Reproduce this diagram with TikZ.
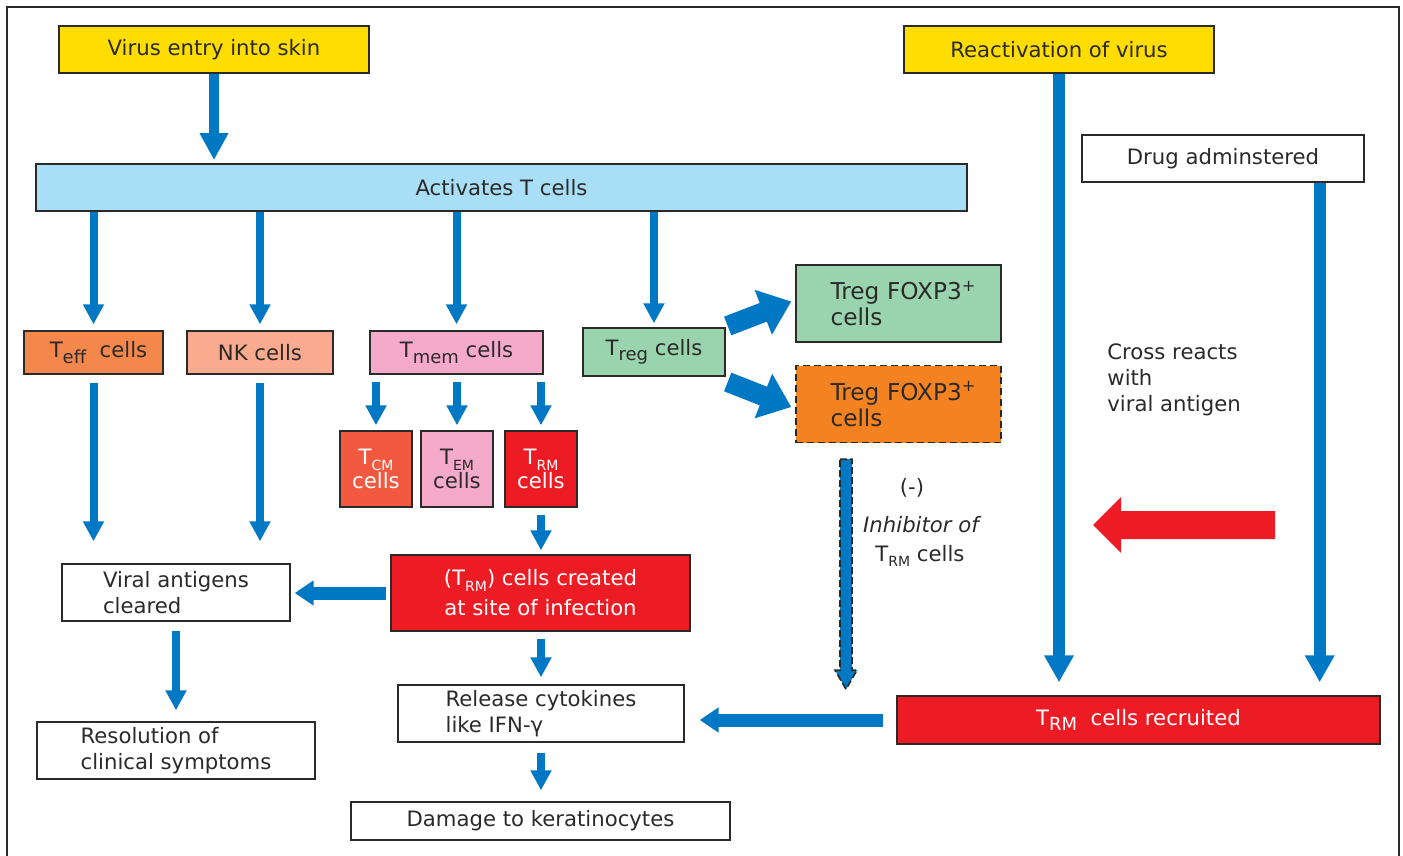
\documentclass[tikz,border=0pt]{standalone}
\usepackage{fontspec}
\setmainfont{DejaVu Sans}
\usetikzlibrary{arrows.meta,calc}

\definecolor{ylw}{HTML}{FFDD00}
\definecolor{skyb}{HTML}{A8DEF6}
\definecolor{effor}{HTML}{F4874B}
\definecolor{salmon}{HTML}{F9AA8F}
\definecolor{pinkc}{HTML}{F5AACB}
\definecolor{greenc}{HTML}{9AD4AE}
\definecolor{orangec}{HTML}{F58220}
\definecolor{cmred}{HTML}{F15A40}
\definecolor{redc}{HTML}{ED1C24}
\definecolor{flow}{HTML}{0078C3}
\definecolor{edge}{HTML}{2B2A29}

% lowered index text in two sizes
\newcommand{\lowbig}[1]{\raisebox{-0.45ex}{\fontsize{9}{9}\selectfont #1}}
\newcommand{\lowsm}[1]{\raisebox{-0.5ex}{\fontsize{7}{7}\selectfont #1}}

\tikzset{
  box/.style={draw=edge, line width=0.7pt, inner sep=0pt, align=center,
    font=\fontsize{10.6}{13}\selectfont, text=edge},
  whitetext/.style={text=white},
  arrA/.style={draw=flow, line width=5pt, -{Triangle[width=13.5pt,length=13.5pt]}},
  arrS/.style={draw=flow, line width=4pt, -{Triangle[width=10pt,length=10pt]}},
  arrL/.style={draw=flow, line width=6pt, -{Triangle[width=14pt,length=13.5pt]}},
  arrH/.style={draw=flow, line width=6.5pt, -{Triangle[width=12pt,length=9.5pt]}},
  arrT/.style={draw=flow, line width=10pt, -{Triangle[width=23pt,length=15pt]}},
  lbl/.style={font=\fontsize{10.6}{13}\selectfont, text=edge, inner sep=0pt, align=left}
}

\begin{document}
\begin{tikzpicture}[x=0.5pt,y=-0.5pt]
\useasboundingbox (0,0) rectangle (1403,856);
\fill[white] (0,0) rectangle (1403,856);
% frame
\draw[edge, line width=1.3pt] (7,870) -- (7,7) -- (1399,7) -- (1399,870);

% top row
\node[box, fill=ylw, minimum width=155pt, minimum height=23.5pt] (virus) at (214,49.5) {Virus entry into skin};
\node[box, fill=ylw, minimum width=155pt, minimum height=23.5pt] (react) at (1059,49.5) {Reactivation of virus};
\node[box, fill=white, minimum width=141pt, minimum height=23.5pt] (drug) at (1223,158.5) {Drug adminstered};
\node[box, fill=skyb, minimum width=465.5pt, minimum height=23.5pt] (act) at (501.5,187.5) {Activates T cells};

% T cell subsets
\node[box, fill=effor, minimum width=69.5pt, minimum height=21.5pt] (teff) at (93.5,352.5) {\hspace*{5pt}T\lowbig{eff}\ \ cells};
\node[box, fill=salmon, minimum width=73pt, minimum height=21.5pt] (nk) at (260,352.5) {NK cells};
\node[box, fill=pinkc, minimum width=86.5pt, minimum height=21.5pt] (tmem) at (456.5,352.5) {T\lowbig{mem}\ cells};
\node[box, fill=greenc, minimum width=71pt, minimum height=24pt] (treg) at (654,352) {T\lowbig{reg} cells};

\node[box, fill=greenc, minimum width=102.5pt, minimum height=38.5pt, text width=68pt, align=left, font=\fontsize{11.6}{13}\selectfont] (fox1) at (898.5,303.5) {\mbox{Treg FOXP3\textsuperscript{+}}\\cells};
\node[box, fill=orangec, dash pattern=on 3.5pt off 2pt, minimum width=102.5pt, minimum height=38.5pt, text width=68pt, align=left, font=\fontsize{11.6}{13}\selectfont] (fox2) at (898.5,404) {\mbox{Treg FOXP3\textsuperscript{+}}\\cells};

\node[box, fill=cmred, whitetext, minimum width=36pt, minimum height=38pt, font=\fontsize{10.6}{12}\selectfont] (tcm) at (376,469) {T\lowsm{CM}\\cells};
\node[box, fill=pinkc, minimum width=36pt, minimum height=38pt, font=\fontsize{10.6}{12}\selectfont] (tem) at (457,469) {T\lowsm{EM}\\cells};
\node[box, fill=redc, whitetext, minimum width=36pt, minimum height=38pt, font=\fontsize{10.6}{12}\selectfont] (trm) at (541,469) {T\lowsm{RM}\\cells};

% lower part
\node[box, fill=white, minimum width=114pt, minimum height=28.5pt, align=left] (viral) at (176,592.5) {Viral antigens\\cleared};
\node[box, fill=redc, whitetext, minimum width=149.5pt, minimum height=38pt, font=\fontsize{10.6}{15}\selectfont] (created) at (540.5,593) {(T\lowsm{RM}) cells created\\at site of infection};
\node[box, fill=white, minimum width=143pt, minimum height=28.5pt, align=left] (release) at (541,713.5) {Release cytokines\\like IFN-γ};
\node[box, fill=white, minimum width=189.5pt, minimum height=19pt] (damage) at (540.5,821) {Damage to keratinocytes};
\node[box, fill=white, minimum width=139pt, minimum height=28.5pt, align=left] (resol) at (176,750.5) {Resolution of\\clinical symptoms};
\node[box, fill=redc, whitetext, minimum width=241.5pt, minimum height=24pt] (recruit) at (1138.5,720) {T\lowbig{RM}\ \ cells recruited};

% free labels
\node[lbl, anchor=west] (cross) at (1107,380) {Cross reacts\\with\\viral antigen};
\node[lbl] (minus) at (912,488) {(-)};
\node[lbl, font=\fontsize{10.6}{13}\selectfont\itshape] (inhib) at (921,525) {Inhibitor of};
\node[lbl] (inhtrm) at (920,556) {T\lowsm{RM} cells};

% connectors
\draw[arrA, shorten >=1.6pt] (virus.south) -- (act.north -| virus.south);
\draw[arrS, shorten >=3pt] (act.south -| teff.north) -- (teff.north);
\draw[arrS, shorten >=3pt] (act.south -| nk.north) -- (nk.north);
\draw[arrS, shorten >=3pt] (act.south -| tmem.north) -- (tmem.north);
\draw[arrS, shorten >=2pt] (act.south -| treg.north) -- (treg.north);

\draw[arrS, shorten <=4pt, shorten >=11pt] (teff.south) -- (teff.south |- viral.north);
\draw[arrS, shorten <=4pt, shorten >=11pt] (nk.south) -- (nk.south |- viral.north);

\draw[arrS, shorten <=3.5pt, shorten >=2.5pt] (tmem.south -| tcm.north) -- (tcm.north);
\draw[arrS, shorten <=3.5pt, shorten >=2.5pt] (tmem.south -| tem.north) -- (tem.north);
\draw[arrS, shorten <=3.5pt, shorten >=2.5pt] (tmem.south -| trm.north) -- (trm.north);

\draw[arrS, shorten <=3.5pt, shorten >=2pt] (trm.south) -- (trm.south |- created.north);
\draw[arrH, shorten <=2pt, shorten >=2pt] (created.west) -- (viral.east |- created.west);
\draw[arrS, shorten <=4.5pt, shorten >=5.5pt] (viral.south) -- (resol.north);
\draw[arrS, shorten <=3.5pt, shorten >=3.5pt] (created.south -| release.north) -- (release.north);
\draw[arrS, shorten <=5pt, shorten >=5.5pt] (release.south) -- (release.south |- damage.north);
\draw[arrH, shorten <=6.5pt, shorten >=7.5pt] (recruit.west) -- (release.east |- recruit.west);

\coordinate (drugout) at ($(drug.south east)+(-45,0)$);
\draw[arrL, shorten >=6.5pt] (react.south) -- (react.south |- recruit.north);
\draw[arrL, shorten >=6.5pt] (drugout) -- (drugout |- recruit.north);

% treg branching arrows
\coordinate (tregup) at ($(treg.east)+(2,-26)$);
\coordinate (tregdn) at ($(treg.east)+(2,30)$);
\draw[arrT] (tregup) -- ($(fox1.west)+(-4,-2)$);
\draw[arrT] (tregdn) -- ($(fox2.west)+(-4,3)$);

% inhibitory dashed arrow
\coordinate (inh) at ($(fox2.south)+(-52.5,16)$);
\draw[edge, fill=flow, line width=0.8pt, dash pattern=on 3.5pt off 1.5pt]
  ($(inh)+(-6,0)$) -- ($(inh)+(6,0)$) -- ($(inh)+(6,211)$) -- ($(inh)+(11,211)$)
  -- ($(inh)+(0,230)$) -- ($(inh)+(-11,211)$) -- ($(inh)+(-6,211)$) -- cycle;

% red cross-reaction arrow
\coordinate (xr) at (1275,525);
\fill[redc] ($(xr)+(0,-14)$) -- ($(xr)+(-154,-14)$) -- ($(xr)+(-154,-28)$)
  -- ($(xr)+(-182,0)$) -- ($(xr)+(-154,28)$) -- ($(xr)+(-154,14)$) -- ($(xr)+(0,14)$) -- cycle;
\end{tikzpicture}
\end{document}
